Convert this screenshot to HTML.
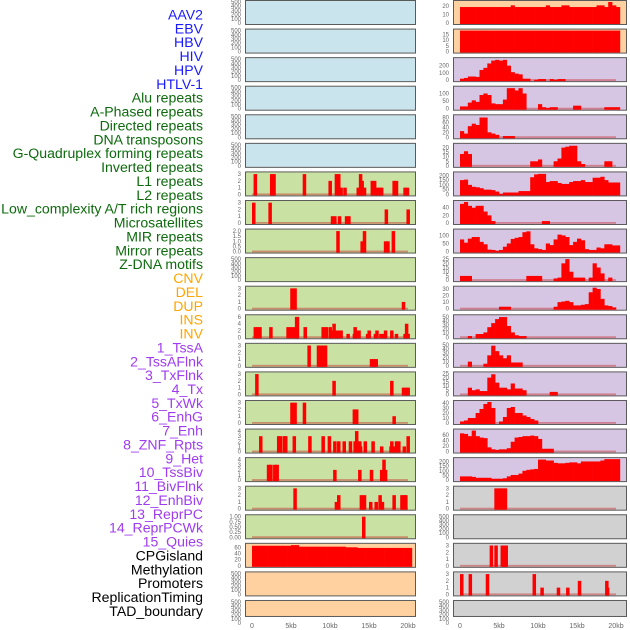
<!DOCTYPE html>
<html><head><meta charset="utf-8"><style>
html,body{margin:0;padding:0;background:#fff;width:630px;height:630px;overflow:hidden}
svg{display:block;font-family:"Liberation Sans",sans-serif}
</style></head><body>
<svg id="chart" width="630" height="630" viewBox="0 0 630 630"></svg>
<script>
// ---- data ----
const labelNames = ["AAV2","EBV","HBV","HIV","HPV","HTLV-1","Alu repeats","A-Phased repeats","Directed repeats","DNA transposons","G-Quadruplex forming repeats","Inverted repeats","L1 repeats","L2 repeats","Low_complexity A/T rich regions","Microsatellites","MIR repeats","Mirror repeats","Z-DNA motifs","CNV","DEL","DUP","INS","INV","1_TssA","2_TssAFlnk","3_TxFlnk","4_Tx","5_TxWk","6_EnhG","7_Enh","8_ZNF_Rpts","9_Het","10_TssBiv","11_BivFlnk","12_EnhBiv","13_ReprPC","14_ReprPCWk","15_Quies","CPGisland","Methylation","Promoters","ReplicationTiming","TAD_boundary"];
const labelGroups = ["v","v","v","v","v","v","r","r","r","r","r","r","r","r","r","r","r","r","r","c","c","c","c","c","s","s","s","s","s","s","s","s","s","s","s","s","s","s","s","k","k","k","k","k"];
const xTickKb = [0,5,10,15,20];
const xTickLabels = ["0","5kb","10kb","15kb","20kb"];
// dense series: 0.5kb bins starting at 0
const r0R = [19,19,19,19,19,19,19,19,19,19,19,19,19,21,19,19,19,19,19,19,19,19,21,19,19,19,21,21,19,19,19,19,19,19,19,21,21,19,25,21,19];
const r1R = [18.5,18.5,18.5,18.5,18.5,18.5,18.5,18.5,18.5,18.5,18.5,18.5,18.5,18.5,18.5,18.5,18.5,18.5,18.5,18.5,18.5,18.5,18.5,18.5,18.5,18.5,18.5,18.5,18.5,18.5,18.5,18.5,18.5,18.5,18.5,18.5,18.5,18.5,18.5,18.5,18.5];
const r2R = [20,30,50,50,45,140,170,230,270,280,270,280,200,110,90,80,20,20,0,5,15,15,0,15,5,15,15,0,0,0,0,0,0,0,0,0,0,0,0,0];
const r3R = [15,15,40,55,45,90,100,90,35,30,30,60,135,135,120,135,100,0,0,0,30,10,5,10,10,0,0,0,0,20,20,0,0,0,0,0,0,10,10,10,10];
const r4R = [25,15,45,55,50,80,80,20,15,10,0,5,5,5,0,0,0,0,0,0,0,0,0,0,0,0,0,0,0,0,0,0,0,0,0,0,0,0,0,0];
const r5R = [13,16,13,0,0,0,0,0,0,0,0,0,0,0,0,0,0,0,5,5,7,0,0,0,5,8,20,21,22,22,5,2,0,0,0,0,0,5,5,0];
const r6R = [150,155,100,80,75,65,50,50,45,30,5,20,20,20,20,35,35,35,180,210,215,215,130,140,140,120,110,110,130,140,140,150,130,130,175,175,185,150,125,125,125];
const r7R = [50,55,45,40,45,45,30,20,5,0,0,0,0,0,0,0,0,0,0,0,0,5,5,0,0,0,0,0,0,0,0,0,0,0,0,0,0,0,0,0];
const r8R = [75,55,80,90,90,60,45,12,10,5,10,30,50,78,85,90,120,125,45,20,15,10,50,40,75,105,100,90,40,60,80,70,15,10,10,25,20,45,45,38,38];
const r9R = [5,5,5,0,0,0,0,0,0,0,0,0,0,0,0,0,0,5,5,5,5,0,0,0,2,3,20,25,10,3,3,3,0,3,20,15,8,0,3,0];
const r10R = [0,0,0,0,0,0,0,0,0,0,3,3,3,0,0,0,0,0,0,0,0,0,0,0,3,10,11,12,10,5,5,6,7,25,32,30,15,5,4,2];
const r11R = [0,0,3,0,8,8,12,25,35,45,50,50,28,12,5,3,3,0,0,0,0,0,0,0,0,0,0,0,0,0,0,0,0,0,0,0,0,0,0,0];
const r12R = [0,0,10,0,0,0,5,25,48,35,25,18,25,8,8,8,0,0,0,0,0,0,0,0,0,0,0,0,0,0,0,0,0,0,0,0,0,0,0,0];
const r13R = [0,0,8,5,6,4,4,20,24,14,8,8,6,13,7,7,5,0,0,0,0,0,0,3,3,0,0,0,0,0,0,0,0,0,0,0,0,0,0,0];
const r14R = [3,5,10,10,20,28,38,42,30,0,3,12,30,32,20,20,15,12,8,5,0,0,0,0,0,0,0,0,0,0,0,0,0,0,0,0,0,0,0,0];
const r15R = [65,63,55,75,55,50,48,15,8,6,8,8,12,35,50,52,55,55,57,55,45,10,10,10,0,0,0,0,0,0,0,0,0,0,0,0,0,0,0,0];
const r16R = [40,40,40,35,25,25,25,25,15,15,15,20,40,55,55,70,100,110,115,120,220,220,210,210,185,180,180,185,190,190,180,200,200,200,200,200,210,225,225,225,225];
const r19L = [65,65,65,65,65,65,65,65,65,65,67,67,62,62,62,62,62,62,62,62,62,62,62,62,60,60,60,58,58,58,58,58,58,58,58,58,58,58,58,58,58];
// sparse series: [kb, value]
const r6L = [[0.4,3],[2.5,3],[2.8,3],[6.7,3],[10,2],[10.8,3],[11.1,3],[11.4,1],[11.9,1],[13.6,1],[13.9,3],[14.1,2],[14.4,1],[15.4,2],[15.7,2],[16.0,1],[16.3,1],[16.6,1],[18.2,2],[18.5,2],[19.6,1],[19.9,1]];
const r7L = [[0.2,3],[2.3,3],[10.3,1],[10.6,1],[11.2,1],[12.1,1],[12.4,1],[17.2,2],[20,2]];
const r8L = [[11,2],[14.1,1],[14.4,2],[17.1,1],[17.4,1],[18.1,2]];
const r10L = [[5.1,3],[5.5,3],[19.4,1]];
const r11L = [[0.4,3],[0.7,3],[1.0,3],[2.4,3],[4.6,3],[5.0,3],[5.4,3],[5.7,6],[5.8,6],[6.8,3],[9.1,3],[9.5,3],[10.0,3],[10.2,2],[10.5,4],[10.8,2],[11.0,2],[11.4,2],[12.3,1],[13.1,1],[13.2,3],[13.4,2],[13.7,2],[14.8,1],[15.0,2],[15.8,1],[16.0,2],[16.5,1],[16.9,1],[17.1,2],[17.9,2],[18.5,1],[19.6,1],[19.8,4],[20,1]];
const r12L = [[7.3,3],[8.5,3],[8.8,3],[9.1,3],[9.4,3],[15.3,1],[15.6,1],[15.9,1]];
const r13L = [[0.6,3],[10.5,2],[17.9,2],[19.4,1],[19.7,1],[20,1]];
const r14L = [[5.1,3],[5.5,3],[6.7,3],[13.1,2],[13.4,2],[18.2,1]];
const r15L = [[1.1,3],[3.4,3],[3.6,3],[4.1,3],[4.3,3],[5.4,3],[7.4,3],[9.1,3],[9.9,3],[10.6,2],[11.1,2],[11.8,2],[12.6,2],[13.2,2],[13.4,4],[13.8,2],[13.9,1],[14.5,2],[15.5,2],[16.6,1],[17.8,1],[17.9,2],[18.1,1],[18.5,2],[18.8,2],[19.5,1],[20,3]];
const r16L = [[2.1,3],[2.4,3],[2.9,3],[3.2,3],[10.6,2],[13.8,2],[15.3,2],[16.6,2],[16.9,4],[17.1,2]];
const r17L = [[5.5,3],[10.8,1],[11.1,2],[14.0,2],[14.2,1],[14.4,2],[15.2,1],[15.9,1],[16.4,2],[16.7,1],[18.2,2],[19.2,2],[19.5,2],[19.7,2]];
const r17R = [[4.6,3],[4.9,3],[5.2,3],[5.5,3],[5.8,3]];
const r18L = [[14.3,1]];
const r19R = [[4.0,3],[4.6,3],[5.4,3],[5.7,3],[5.9,3]];
const r20R = [[0.2,3],[1.3,3],[3.5,3],[9.5,3],[10.5,1],[12.6,1],[13.8,1],[15.3,2],[18.8,2],[18.9,1]];

const T500=[0,100,200,300,400,500], T3=[0,1,2,3];
const BG={b:"#c9e4ec",g:"#c9e1a3",p:"#ffd1a1",l:"#d7c6e3",k:"#d1d1d1"};
const rows = [
 [{bg:"b",max:500,ticks:T500},{bg:"p",max:25,ticks:[0,10,20],dense:r0R}],
 [{bg:"b",max:500,ticks:T500},{bg:"p",max:18.5,ticks:[0,5,10,15],dense:r1R}],
 [{bg:"b",max:500,ticks:T500},{bg:"l",max:290,ticks:[0,100,200],dense:r2R}],
 [{bg:"b",max:500,ticks:T500},{bg:"l",max:138,ticks:[0,50,100],dense:r3R}],
 [{bg:"b",max:500,ticks:T500},{bg:"l",max:85,ticks:[0,20,40,60,80],dense:r4R}],
 [{bg:"b",max:500,ticks:T500},{bg:"l",max:23,ticks:[0,5,10,15,20],dense:r5R}],
 [{bg:"g",max:3.1,ticks:T3,sparse:r6L},{bg:"l",max:220,ticks:[0,50,100,150,200],dense:r6R}],
 [{bg:"g",max:3.1,ticks:T3,sparse:r7L},{bg:"l",max:55,ticks:[0,20,40],dense:r7R}],
 [{bg:"g",max:2.05,ticks:[0,0.5,1,1.5,2],tf:1,sparse:r8L},{bg:"l",max:130,ticks:[0,50,100],dense:r8R}],
 [{bg:"g",max:500,ticks:T500},{bg:"l",max:25,ticks:[0,5,10,15,20,25],dense:r9R}],
 [{bg:"g",max:3.1,ticks:T3,sparse:r10L},{bg:"l",max:32,ticks:[0,10,20,30],dense:r10R}],
 [{bg:"g",max:6.2,ticks:[0,2,4,6],sparse:r11L},{bg:"l",max:52,ticks:[0,10,20,30,40,50],dense:r11R}],
 [{bg:"g",max:3.1,ticks:T3,sparse:r12L},{bg:"l",max:50,ticks:[0,10,20,30,40,50],dense:r12R}],
 [{bg:"g",max:3.1,ticks:T3,sparse:r13L},{bg:"l",max:25,ticks:[0,5,10,15,20,25],dense:r13R}],
 [{bg:"g",max:3.1,ticks:T3,sparse:r14L},{bg:"l",max:42,ticks:[0,10,20,30,40],dense:r14R}],
 [{bg:"g",max:4.1,ticks:[0,1,2,3,4],sparse:r15L},{bg:"l",max:75,ticks:[0,20,40,60],dense:r15R}],
 [{bg:"g",max:4.1,ticks:[0,1,2,3,4],sparse:r16L},{bg:"l",max:225,ticks:[0,50,100,150,200],dense:r16R}],
 [{bg:"g",max:3.1,ticks:T3,sparse:r17L},{bg:"k",max:3.1,ticks:T3,sparse:r17R}],
 [{bg:"g",max:1.02,ticks:[0,0.25,0.5,0.75,1],tf:2,sparse:r18L},{bg:"k",max:500,ticks:T500}],
 [{bg:"p",max:68,ticks:[0,20,40,60],dense:r19L},{bg:"k",max:3.1,ticks:T3,sparse:r19R}],
 [{bg:"p",max:500,ticks:T500},{bg:"k",max:3.1,ticks:T3,sparse:r20R}],
 [{bg:"p",max:500,ticks:T500},{bg:"k",max:500,ticks:T500}]
];

// ---- drawing ----
const NS="http://www.w3.org/2000/svg";
const svg=document.getElementById("chart");
function mk(tag,attrs,parent){const e=document.createElementNS(NS,tag);for(const k in attrs)e.setAttribute(k,attrs[k]);(parent||svg).appendChild(e);return e;}
const COLORS={v:"#1a1aff",r:"#0d6b0d",c:"#ffa500",s:"#a03cf0",k:"#000"};
labelNames.forEach((n,i)=>{
  const t=mk("text",{x:203,y:19.5+i*13.87,"text-anchor":"end","font-size":"14.1",fill:COLORS[labelGroups[i]]});
  t.textContent=n;
  
  
});
const PANELS=[{x0:245,x1:416,org:252},{x0:453,x1:627,org:460}];
const PX_PER_KB=7.8;
function xScale(side,kb){return PANELS[side].org+kb*PX_PER_KB;}
rows.forEach((row,i)=>{
  const top=i*28.57, h=(i===21?17:25);
  const y0=top+23, yTop=top+2;
  row.forEach((cfg,side)=>{
    const P=PANELS[side];
    const g=mk("g",{});
    
    
    mk("rect",{x:P.x0+0.5,y:top+0.5,width:P.x1-P.x0-1,height:h-1,fill:BG[cfg.bg],stroke:"#5a5a5a","stroke-width":1},g);
    const yS=v=>y0-(v/cfg.max)*(y0-yTop);
    cfg.ticks.forEach(tv=>{
      const t=mk("text",{x:P.x0-4,y:yS(tv)+2,"text-anchor":"end","font-size":"6",fill:"#666"},g);
      t.textContent=cfg.tf?tv.toFixed(cfg.tf):String(tv);
      
      
    });
    if(cfg.dense||cfg.sparse){
      const bl=mk("rect",{x:xScale(side,0),y:y0-1,width:20*PX_PER_KB,height:1.8,fill:"rgba(200,40,40,0.45)"},g);
      
      
    }
    if(cfg.dense){
      cfg.dense.forEach((v,k)=>{
        if(v<=0)return;
        const x=xScale(side,k*0.5), w=xScale(side,(k+1)*0.5)-x;
        const r=mk("rect",{x:x,y:yS(v),width:w+0.3,height:y0-yS(v)+1,fill:"#ff0000"},g);
        
        
      });
    }
    if(cfg.sparse){
      cfg.sparse.forEach(d=>{
        const x=xScale(side,d[0]-0.2), w=0.45*PX_PER_KB;
        const r=mk("rect",{x:x,y:yS(d[1]),width:w,height:y0-yS(d[1])+1,fill:"#ff0000"},g);
        
        
      });
    }
  });
});
[0,1].forEach(side=>{
  xTickKb.forEach((kb,j)=>{
    const t=mk("text",{x:xScale(side,kb),y:628,"text-anchor":"middle","font-size":"7",fill:"#666"});
    t.textContent=xTickLabels[j];
    
    
  });
});
</script>
</body></html>
